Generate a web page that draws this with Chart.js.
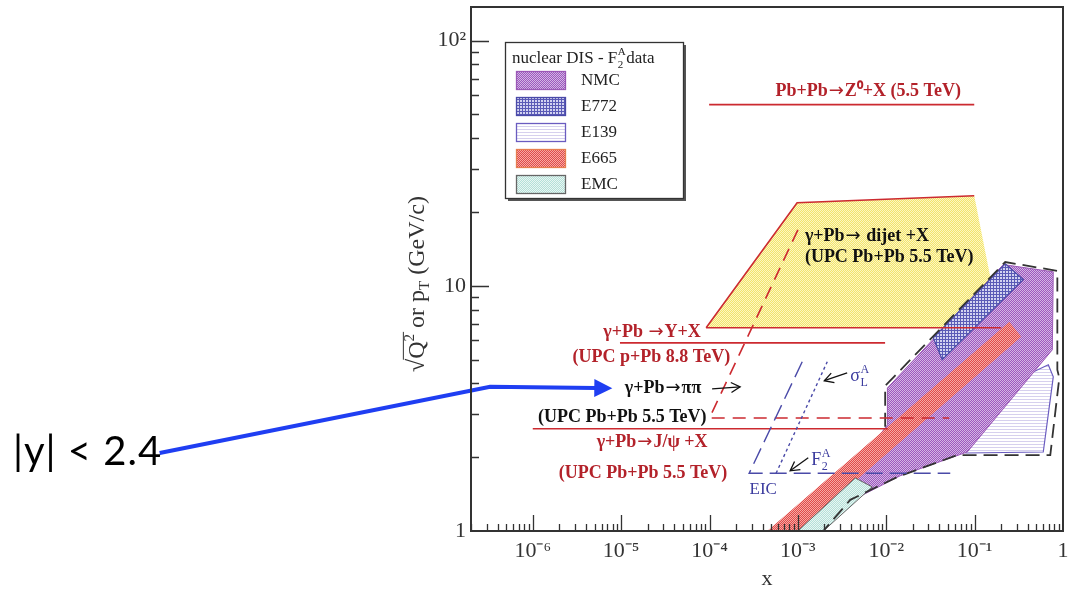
<!DOCTYPE html>
<html lang="en">
<head>
<meta charset="UTF-8">
<title>Nuclear DIS and UPC kinematic coverage</title>
<script src="https://cdn.jsdelivr.net/npm/chart.js"></script>
<style>
    body { margin: 0; padding: 0; background: #fff; }
    #wrap { width: 1070px; height: 590px; }
</style>
</head>
<body>
<div id="wrap"><canvas id="chart" width="1070" height="590"></canvas></div>
<script>
// ---- axes ----
const xLimits = [2e-7, 1];
const yLimits = [1, 137];
const xTickValues = [1e-6, 1e-5, 1e-4, 1e-3, 1e-2, 1e-1, 1];
const xTickLabels = ['10⁻⁶', '10⁻⁵', '10⁻⁴', '10⁻³', '10⁻²', '10⁻¹', '1'];
const yTickValues = [1, 10, 100];
const yTickLabels = ['1', '10', '10²'];

// ---- nuclear DIS F2A data regions: polygon corners (x, sqrt(Q2)) ----
const nmcX  = [0.0103, 0.211, 0.776, 0.757, 0.0826, 0.0144, 0.00423, 0.00244, 0.0103];
const nmcQ  = [3.83, 12.2, 11.4, 5.48, 2.10, 1.68, 1.34, 1.34, 2.71];
const e772X = [0.034, 0.222, 0.356, 0.043];
const e772Q = [6.13, 12.3, 10.6, 4.99];
const e139X = [0.0783, 0.116, 0.682, 0.776, 0.598];
const e139Q = [2.08, 3.52, 4.76, 4.25, 2.10];
const e665X = [4.5e-4, 0.247, 0.337, 1.0e-3];
const e665Q = [1, 7.13, 6.19, 1];
const emcX  = [1.0e-3, 4.46e-3, 6.93e-3, 1.94e-3];
const emcQ  = [1, 1.645, 1.513, 1];
// dashed envelope round the data
const envX  = [9.72e-3, 9.72e-3, 0.222, 0.863, 0.863, 0.908, 0.718, 0.0637, 0.0133, 3.91e-3, 1.94e-3];
const envQ  = [2.66, 3.91, 12.5, 11.5, 4.54, 4.21, 2.04, 2.04, 1.66, 1.34, 1];

// ---- UPC / LHC reach ----
const dijetX = [9.16e-5, 9.8e-4, 0.099, 0.195];
const dijetQ = [6.74, 21.8, 23.3, 6.74];
const upsAX = [9.16e-5, 0.2],   upsAQ = [6.74, 6.74];
const upsBX = [9.7e-6, 9.7e-3], upsBQ = [5.85, 5.85];
const jpsiX = [1.0e-6, 1.05e-2], jpsiQ = [2.61, 2.61];
const zX = [9.9e-5, 0.099], zQ = [54.8, 54.8];
const pipiX = [1.0e-3, 1.0e-4, 0.0516], pipiQ = [16.9, 2.89, 2.89];

// ---- EIC ----
const eicF2X = [1.12e-3, 2.81e-4, 0.053], eicF2Q = [4.90, 1.72, 1.72];
const eicSigX = [5.67e-4, 2.15e-3], eicSigQ = [1.72, 4.90];

// ---- arrows ----
const arrowPipiX = [1.07e-4, 2.22e-4], arrowPipiQ = [3.80, 3.87];
const arrowSigX = [3.61e-3, 1.99e-3], arrowSigQ = [4.41, 4.10];
const arrowF2X = [1.31e-3, 8.18e-4], arrowF2Q = [1.99, 1.76];
const calloutX = [6.0e-11, 3.29e-7, 5.1e-6], calloutQ = [2.08, 3.87, 3.83];
const calloutText = '|y| < 2.4', calloutTextX = 1.31e-12, calloutTextQ = 1.86;

// ---- text labels ----
const labelText  = ['Pb+Pb→Z⁰+X (5.5 TeV)', 'γ+Pb→ dijet +X', '(UPC Pb+Pb 5.5 TeV)', 'γ+Pb →Υ+X', '(UPC p+Pb 8.8 TeV)',
                    'γ+Pb→ππ', '(UPC Pb+Pb 5.5 TeV)', 'γ+Pb→J/ψ +X', '(UPC Pb+Pb 5.5 TeV)', 'EIC'];
const labelX     = [6.25e-3, 1.2e-3, 1.2e-3, 2.24e-5, 2.2e-5, 2.98e-5, 1.03e-5, 2.24e-5, 1.77e-5, 4.05e-4];
const labelQ     = [61.9, 15.85, 13.0, 6.43, 5.13, 3.80, 2.92, 2.29, 1.725, 1.47];
const labelColor = ['red', 'black', 'black', 'red', 'red', 'black', 'black', 'red', 'red', 'blue'];
const labelAlign = ['center', 'left', 'left', 'center', 'center', 'center', 'center', 'center', 'center', 'center'];
const labelBold  = [true, true, true, true, true, true, true, true, true, false];
// sigma_L^A and F_2^A
const richBase = ['σ', 'F'], richSub = ['L', '2'], richSup = ['A', 'A'];
const richX = [3.91e-3, 1.42e-3], richQ = [4.33, 1.97];

const legendOrder = ['NMC', 'E772', 'E139', 'E665', 'EMC'];

const serif = '"Liberation Serif", "Times New Roman", Times, serif';
const palette = { red: '#b3222a', black: '#111', blue: '#3b3b9e' };
const lineRed = '#cc2a30', eicBlue = '#4a4aa8';

const canvas = document.getElementById('chart');
const mainCtx = canvas.getContext('2d');

function pattern(size, draw) {
    const c = document.createElement('canvas');
    c.width = c.height = size;
    draw(c.getContext('2d'), size);
    return mainCtx.createPattern(c, 'repeat');
}
function checker(a, b) {
    return pattern(2, g => {
        g.fillStyle = a; g.fillRect(0, 0, 2, 2);
        g.fillStyle = b; g.fillRect(0, 0, 1, 1); g.fillRect(1, 1, 1, 1);
    });
}
const fills = {
    dijet: checker('#f3e56a', '#fcf6c4'),
    NMC: checker('#9c58be', '#d4b6e4'),
    E772: pattern(3, g => {
        g.fillStyle = '#d2d2f0'; g.fillRect(0, 0, 3, 3);
        g.fillStyle = '#5a5ab6'; g.fillRect(0, 0, 3, 1); g.fillRect(0, 0, 1, 3);
    }),
    E139: pattern(3, g => {
        g.fillStyle = '#ffffff'; g.fillRect(0, 0, 3, 3);
        g.fillStyle = '#d6d0ee'; g.fillRect(0, 0, 3, 1);
    }),
    E665: checker('#e04a4a', '#f6aaa4'),
    EMC: checker('#b4e0d8', '#e9f6f3')
};

function pts(xs, qs, close) {
    const p = xs.map((x, i) => ({ x: x, y: qs[i] }));
    if (close) p.push({ x: xs[0], y: qs[0] });
    return p;
}
function area(key, xs, qs, border, width, legendBorder) {
    return { key: key, data: pts(xs, qs, true), backgroundColor: fills[key], fill: 'shape',
             borderColor: border, borderWidth: width, legendBorder: legendBorder || border };
}
function line(xs, qs, color, width, dash, extra) {
    return Object.assign({ data: pts(xs, qs, false), borderColor: color, borderWidth: width,
                           borderDash: dash || [], fill: false }, extra || {});
}

// listed bottom -> top
const datasets = [
    area('dijet', dijetX, dijetQ, 'rgba(0,0,0,0)', 0),
    area('E139', e139X, e139Q, '#6a5cc0', 1.2),
    area('NMC', nmcX, nmcQ, '#9b59b6', 1),
    area('E772', e772X, e772Q, '#4a4aa8', 1.2),
    area('E665', e665X, e665Q, 'rgba(0,0,0,0)', 0, '#e67e50'),
    area('EMC', emcX, emcQ, '#666', 1),
    line(envX, envQ, '#333', 1.8, [14, 7]),
    line(dijetX.slice(0, 3), dijetQ.slice(0, 3), lineRed, 1.6),
    line(upsAX, upsAQ, lineRed, 1.6),
    line(upsBX, upsBQ, lineRed, 1.6),
    line(jpsiX, jpsiQ, lineRed, 1.6),
    line(zX, zQ, lineRed, 1.6),
    line(pipiX, pipiQ, lineRed, 1.6, [13, 8]),
    line(eicF2X, eicF2Q, eicBlue, 1.4, [17, 7]),
    line(eicSigX, eicSigQ, eicBlue, 1.4, [3, 3]),
    line(arrowPipiX, arrowPipiQ, '#111', 1.3, [], { head: 'open' }),
    line(arrowSigX, arrowSigQ, '#111', 1.3, [], { head: 'open' }),
    line(arrowF2X, arrowF2Q, '#111', 1.3, [], { head: 'open' }),
    line(calloutX, calloutQ, '#1f3ef2', 4, [], { head: 'filled', clip: false })
];
datasets.forEach((d, i) => {
    d.order = datasets.length - i;
    d.showLine = true;
    d.pointRadius = 0;
    d.tension = 0;
});

function richText(ctx, base, sub, sup, x, y, size, align) {
    ctx.font = size + 'px ' + serif;
    const wb = ctx.measureText(base).width;
    ctx.font = Math.round(size * 0.66) + 'px ' + serif;
    const ws = Math.max(ctx.measureText(sub).width, ctx.measureText(sup).width);
    let x0 = align === 'center' ? x - (wb + ws) / 2 : x;
    ctx.textAlign = 'left';
    ctx.textBaseline = 'alphabetic';
    ctx.font = size + 'px ' + serif;
    ctx.fillText(base, x0, y);
    ctx.font = Math.round(size * 0.66) + 'px ' + serif;
    ctx.fillText(sub, x0 + wb + 0.5, y + size * 0.3);
    ctx.fillText(sup, x0 + wb + 0.5, y - size * 0.45);
    return wb + ws;
}

// text with full-size arrows: the arrow glyph comes from DejaVu Sans
function arrowText(ctx, text, x, y, font, size, align) {
    const parts = text.split('→');
    const arrowFont = size + 'px "DejaVu Sans", sans-serif';
    const widths = parts.map(p => { ctx.font = font; return ctx.measureText(p).width; });
    ctx.font = arrowFont;
    const wa = ctx.measureText('→').width + 2;
    const total = widths.reduce((s, w) => s + w, 0) + wa * (parts.length - 1);
    let x0 = align === 'center' ? x - total / 2 : x;
    ctx.textAlign = 'left';
    parts.forEach((p, i) => {
        ctx.font = font;
        ctx.fillText(p, x0, y);
        x0 += widths[i];
        if (i < parts.length - 1) {
            ctx.font = arrowFont;
            ctx.fillText('→', x0 + 1, y);
            x0 += wa;
        }
    });
}

const textLabels = {
    id: 'textLabels',
    afterDatasetsDraw(chart) {
        const { ctx, scales: { x, y } } = chart;
        ctx.save();
        ctx.textBaseline = 'middle';
        labelText.forEach((t, i) => {
            const size = labelBold[i] ? 18 : 17;
            const font = (labelBold[i] ? 'bold ' : '') + size + 'px ' + serif;
            ctx.fillStyle = palette[labelColor[i]];
            arrowText(ctx, t, x.getPixelForValue(labelX[i]), y.getPixelForValue(labelQ[i]), font, size, labelAlign[i]);
        });
        ctx.fillStyle = palette.blue;
        richBase.forEach((b, i) => {
            richText(ctx, b, richSub[i], richSup[i], x.getPixelForValue(richX[i]), y.getPixelForValue(richQ[i]) + 6, 18, 'left');
        });
        ctx.fillStyle = '#000';
        ctx.font = '40px Lato, "Open Sans", sans-serif';
        ctx.letterSpacing = '1px';
        ctx.textAlign = 'left';
        ctx.textBaseline = 'alphabetic';
        ctx.fillText(calloutText, x.getPixelForValue(calloutTextX), y.getPixelForValue(calloutTextQ));
        ctx.letterSpacing = '0px';
        ctx.restore();
    }
};

const arrowHeads = {
    id: 'arrowHeads',
    afterDatasetsDraw(chart) {
        const ctx = chart.ctx;
        chart.data.datasets.forEach((ds, i) => {
            if (!ds.head) return;
            const p = chart.getDatasetMeta(i).data;
            const a = p[p.length - 2], b = p[p.length - 1];
            const ang = Math.atan2(b.y - a.y, b.x - a.x);
            ctx.save();
            ctx.translate(b.x, b.y);
            ctx.rotate(ang);
            ctx.strokeStyle = ds.borderColor;
            ctx.fillStyle = ds.borderColor;
            if (ds.head === 'filled') {
                ctx.beginPath();
                ctx.moveTo(17, 0); ctx.lineTo(-1, -9); ctx.lineTo(-1, 9);
                ctx.closePath();
                ctx.fill();
            } else {
                ctx.lineWidth = ds.borderWidth;
                ctx.beginPath();
                ctx.moveTo(-9, -5); ctx.lineTo(0, 0); ctx.lineTo(-9, 5);
                ctx.stroke();
            }
            ctx.restore();
        });
    }
};

// frame with inward log ticks, drawn over the shaded areas
const frameTicks = {
    id: 'frameTicks',
    afterDatasetsDraw(chart) {
        const { ctx, chartArea: a, scales: { x, y } } = chart;
        ctx.save();
        ctx.strokeStyle = '#333';
        ctx.lineWidth = 1.3;
        ctx.beginPath();
        for (let e = -7; e <= 0; e++) {
            for (let m = 1; m <= 9; m++) {
                const v = m * Math.pow(10, e);
                if (v < xLimits[0] || v >= xLimits[1]) continue;
                const px = Math.round(x.getPixelForValue(v)) + 0.5;
                ctx.moveTo(px, a.bottom);
                ctx.lineTo(px, a.bottom - (m === 1 ? 16 : 7));
            }
        }
        for (let e = 0; e <= 2; e++) {
            for (let m = 1; m <= 9; m++) {
                const v = m * Math.pow(10, e);
                if (v <= yLimits[0] || v > yLimits[1]) continue;
                const py = Math.round(y.getPixelForValue(v)) + 0.5;
                ctx.moveTo(a.left, py);
                ctx.lineTo(a.left + (m === 1 ? 18 : 8), py);
            }
        }
        ctx.stroke();
        ctx.lineWidth = 2;
        ctx.strokeRect(a.left, a.top, a.right - a.left, a.bottom - a.top);
        ctx.restore();
    }
};

const yTitle = {
    id: 'yTitle',
    afterDraw(chart) {
        const { ctx, chartArea: a } = chart;
        const size = 24;
        ctx.save();
        ctx.translate(a.left - 47, (a.top + a.bottom) / 2 + 15);
        ctx.rotate(-Math.PI / 2);
        ctx.fillStyle = '#333';
        ctx.strokeStyle = '#333';
        ctx.textBaseline = 'alphabetic';
        ctx.textAlign = 'left';
        const big = size + 'px ' + serif, small = Math.round(size * 0.62) + 'px ' + serif;
        ctx.font = big;
        const wRoot = ctx.measureText('√').width, wQ = ctx.measureText('Q').width;
        const wOr = ctx.measureText(' or p').width, wRest = ctx.measureText(' (GeV/c)').width;
        ctx.font = small;
        const w2 = ctx.measureText('2').width, wT = ctx.measureText('T').width;
        const total = wRoot + wQ + w2 + wOr + wT + wRest;
        let x0 = -total / 2;
        ctx.font = big;
        ctx.fillText('√', x0, 0);
        ctx.lineWidth = 1;
        ctx.beginPath();
        ctx.moveTo(x0 + wRoot - 1, -size * 0.86);
        ctx.lineTo(x0 + wRoot + wQ + w2 + 2, -size * 0.86);
        ctx.stroke();
        x0 += wRoot;
        ctx.fillText('Q', x0, 0); x0 += wQ;
        ctx.font = small; ctx.fillText('2', x0, -size * 0.4); x0 += w2;
        ctx.font = big; ctx.fillText(' or p', x0, 0); x0 += wOr;
        ctx.font = small; ctx.fillText('T', x0, size * 0.22); x0 += wT;
        ctx.font = big; ctx.fillText(' (GeV/c)', x0, 0);
        ctx.restore();
    }
};

const dataLegend = {
    id: 'dataLegend',
    afterDraw(chart) {
        const { ctx, chartArea: a } = chart;
        const bx = a.left + 34, by = a.top + 35, bw = 178, bh = 156;
        ctx.save();
        ctx.fillStyle = '#555';
        ctx.fillRect(bx + 3, by + 3, bw, bh);
        ctx.fillStyle = '#fff';
        ctx.fillRect(bx, by, bw, bh);
        ctx.strokeStyle = '#333';
        ctx.lineWidth = 1.3;
        ctx.strokeRect(bx + 0.5, by + 0.5, bw, bh);
        ctx.fillStyle = '#222';
        ctx.font = '17px ' + serif;
        ctx.textAlign = 'left';
        ctx.textBaseline = 'alphabetic';
        const head = 'nuclear DIS - ';
        ctx.fillText(head, bx + 7, by + 21);
        const w = ctx.measureText(head).width;
        const wr = richText(ctx, 'F', '2', 'A', bx + 7 + w, by + 21, 17, 'left');
        ctx.font = '17px ' + serif;
        ctx.fillText('data', bx + 7 + w + wr + 1, by + 21);
        legendOrder.forEach((k, i) => {
            const ds = chart.data.datasets.find(d => d.key === k);
            const sy = by + 29 + i * 26;
            ctx.fillStyle = ds.backgroundColor;
            ctx.fillRect(bx + 11, sy, 50, 19);
            ctx.strokeStyle = ds.legendBorder;
            ctx.lineWidth = 1.3;
            ctx.strokeRect(bx + 11.5, sy + 0.5, 49, 18);
            ctx.fillStyle = '#222';
            ctx.font = '17px ' + serif;
            ctx.textBaseline = 'middle';
            ctx.fillText(k, bx + 76, sy + 10);
            ctx.textBaseline = 'alphabetic';
        });
        ctx.restore();
    }
};

new Chart(canvas, {
    type: 'scatter',
    data: { datasets: datasets },
    options: {
        responsive: false,
        animation: false,
        layout: { padding: { top: 7, right: 7, left: 0, bottom: 0 } },
        scales: {
            x: {
                type: 'logarithmic',
                min: xLimits[0],
                max: xLimits[1],
                afterBuildTicks: s => { s.ticks = xTickValues.map(v => ({ value: v })); },
                afterFit: s => { s.height = 59; s.paddingLeft = 0; s.paddingRight = 0; },
                grid: { display: false, drawTicks: false },
                border: { display: false },
                ticks: {
                    autoSkip: false, maxRotation: 0, padding: 7, color: '#333',
                    font: { family: serif, size: 22 },
                    callback: (v, i) => xTickLabels[i]
                },
                title: { display: true, text: 'x', color: '#333', padding: 0,
                         font: { family: serif, size: 22, lineHeight: 1 } }
            },
            y: {
                type: 'logarithmic',
                min: yLimits[0],
                max: yLimits[1],
                afterBuildTicks: s => { s.ticks = yTickValues.map(v => ({ value: v })); },
                afterFit: s => { s.width = 471; s.paddingTop = 0; s.paddingBottom = 0; },
                grid: { display: false, drawTicks: false },
                border: { display: false },
                ticks: {
                    autoSkip: false, padding: 5, color: '#333',
                    font: { family: serif, size: 22 },
                    callback: (v, i) => yTickLabels[i]
                }
            }
        },
        plugins: {
            legend: { display: false },
            tooltip: { enabled: false },
            filler: { drawTime: 'beforeDatasetDraw' }
        }
    },
    plugins: [frameTicks, arrowHeads, textLabels, yTitle, dataLegend]
});
</script>
</body>
</html>
